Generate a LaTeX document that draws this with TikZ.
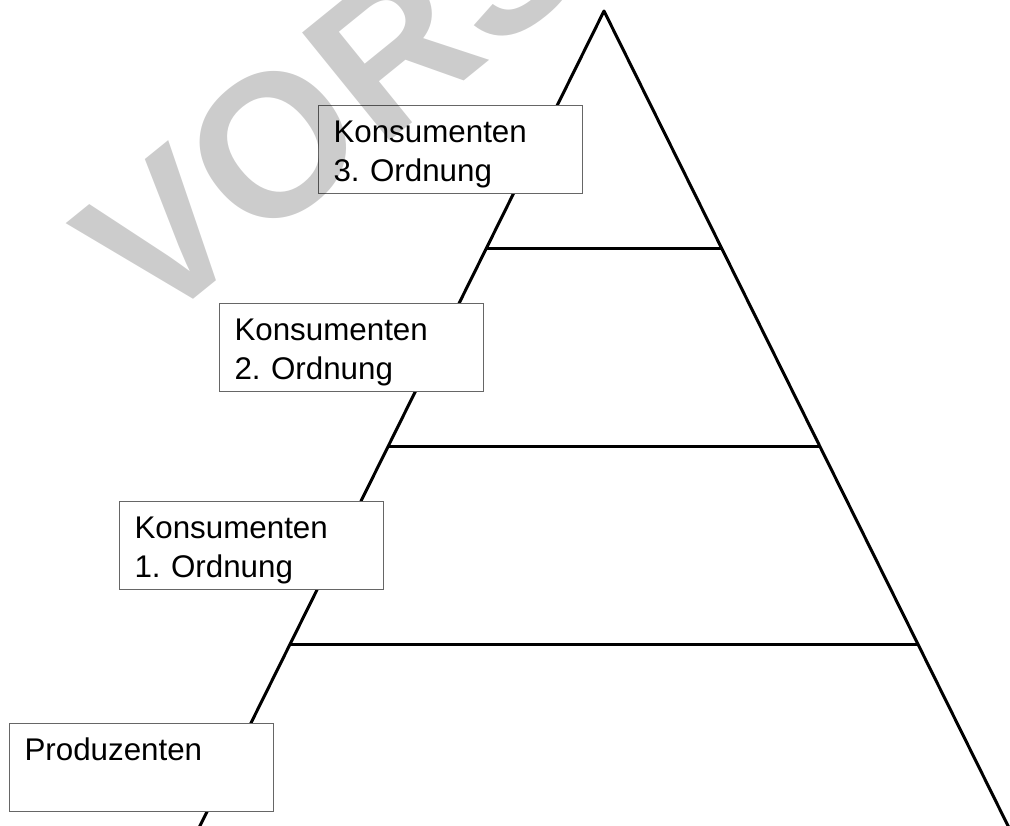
\documentclass[tikz,border=0pt]{standalone}
\usepackage{fontspec}
\setmainfont{Liberation Sans}
\frenchspacing
\begin{document}
\begin{tikzpicture}[x=0.75pt,y=-0.75pt,
  edge/.style={line width=2.25pt,line cap=round,line join=round},
  level/.style={line width=2.25pt},
  box/.style={draw=black!60,line width=0.75pt,fill=white,anchor=north west,
    text width=175.5pt,align=left,inner xsep=11.25pt,inner ysep=0pt,
    text height=27.75pt,text depth=38.25pt,
    font=\fontsize{23.5pt}{29.25pt}\selectfont},
  watermark/.style={font=\bfseries\fontsize{151.5pt}{151.5pt}\selectfont,
    text=black,text opacity=0.2,inner sep=0pt,anchor=base west,rotate=39}]
\useasboundingbox (0,0) rectangle (1010,825);
\clip (0,0) rectangle (1010,825);
% pyramid
\coordinate (apex) at (604,11);
\coordinate (bl) at (188,850);
\coordinate (br) at (1020,850);
\coordinate (l1) at (486.5,248);
\coordinate (r1) at (721.5,248);
\coordinate (l2) at (388.3,446);
\coordinate (r2) at (819.7,446);
\coordinate (l3) at (290.2,644);
\coordinate (r3) at (917.8,644);
\draw[edge] (bl) -- (apex) -- (br);
\draw[level] (l1) -- (r1);
\draw[level] (l2) -- (r2);
\draw[level] (l3) -- (r3);
% boxes
\node[box] (k3) at (318,105) {Konsumenten\\3. Ordnung};
\node[box] (k2) at (219,303) {Konsumenten\\2. Ordnung};
\node[box] (k1) at (119,501) {Konsumenten\\1. Ordnung};
\node[box] (p0) at (9,723) {Produzenten};
% watermark
\node[watermark] (wm) at (152,333) {VORSCHAU};
\end{tikzpicture}
\end{document}
